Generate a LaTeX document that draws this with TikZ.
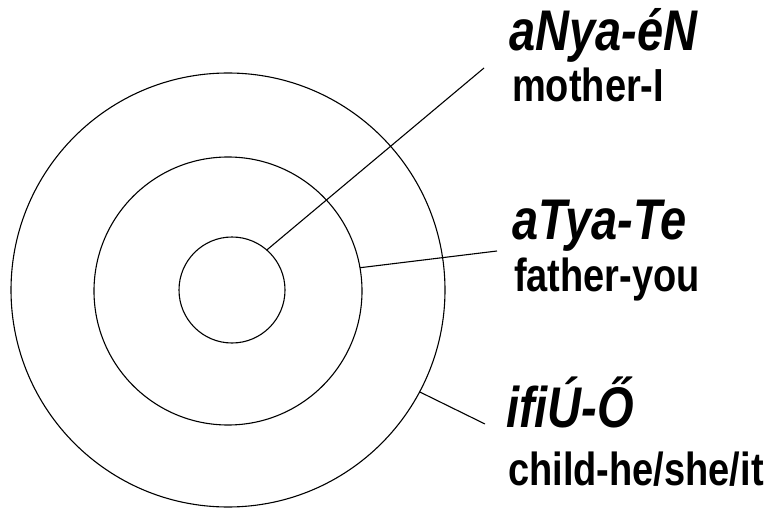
\documentclass[tikz,border=0pt]{standalone}
\usepackage{fontspec}
\setmainfont{Liberation Sans}
\usepackage{graphicx}
\usepackage{tikz}

\newcommand{\tallword}[1]{\scalebox{1}[1.22]{#1}}

\tikzset{
  ring/.style={circle, draw, line width=1.1pt, inner sep=0pt, outer sep=0pt},
  link/.style={line width=1.1pt},
  word/.style={anchor=base west, inner sep=0pt, font=\fontsize{47}{47}\selectfont\bfseries\itshape},
  gloss/.style={anchor=base west, inner sep=0pt, font=\fontsize{38}{38}\selectfont\bfseries},
}

\begin{document}
\begin{tikzpicture}[x=1pt,y=-1pt]
\useasboundingbox (0,0) rectangle (774,508);

% the three rings
\node[ring, minimum size=434pt] (outer) at (228,290) {};
\node[ring, minimum size=268pt] (middle) at (228,291) {};
\node[ring, minimum size=106pt] (inner) at (232,290) {};

% labels
\node[word] (mother) at (509,51) {\tallword{aNya-éN}};
\node[gloss] (motherg) at (512,102) {\tallword{mother-I}};
\node[word] (father) at (512,239) {\tallword{aTya-Te}};
\node[gloss] (fatherg) at (514,291) {\tallword{father-you}};
\node[word] (child) at (506,427) {\tallword{ifiÚ-Ő}};
\node[gloss] (childg) at (508,485) {\tallword{child-he/she/it}};

\coordinate (motherend) at (484,68);
\coordinate (fatherend) at (497,251);
\coordinate (childend) at (485,424);

\draw[link] (inner.49) -- (motherend);
\draw[link] (middle.10) -- (fatherend);
\draw[link] (outer.-28) -- (childend);

\end{tikzpicture}
\end{document}
